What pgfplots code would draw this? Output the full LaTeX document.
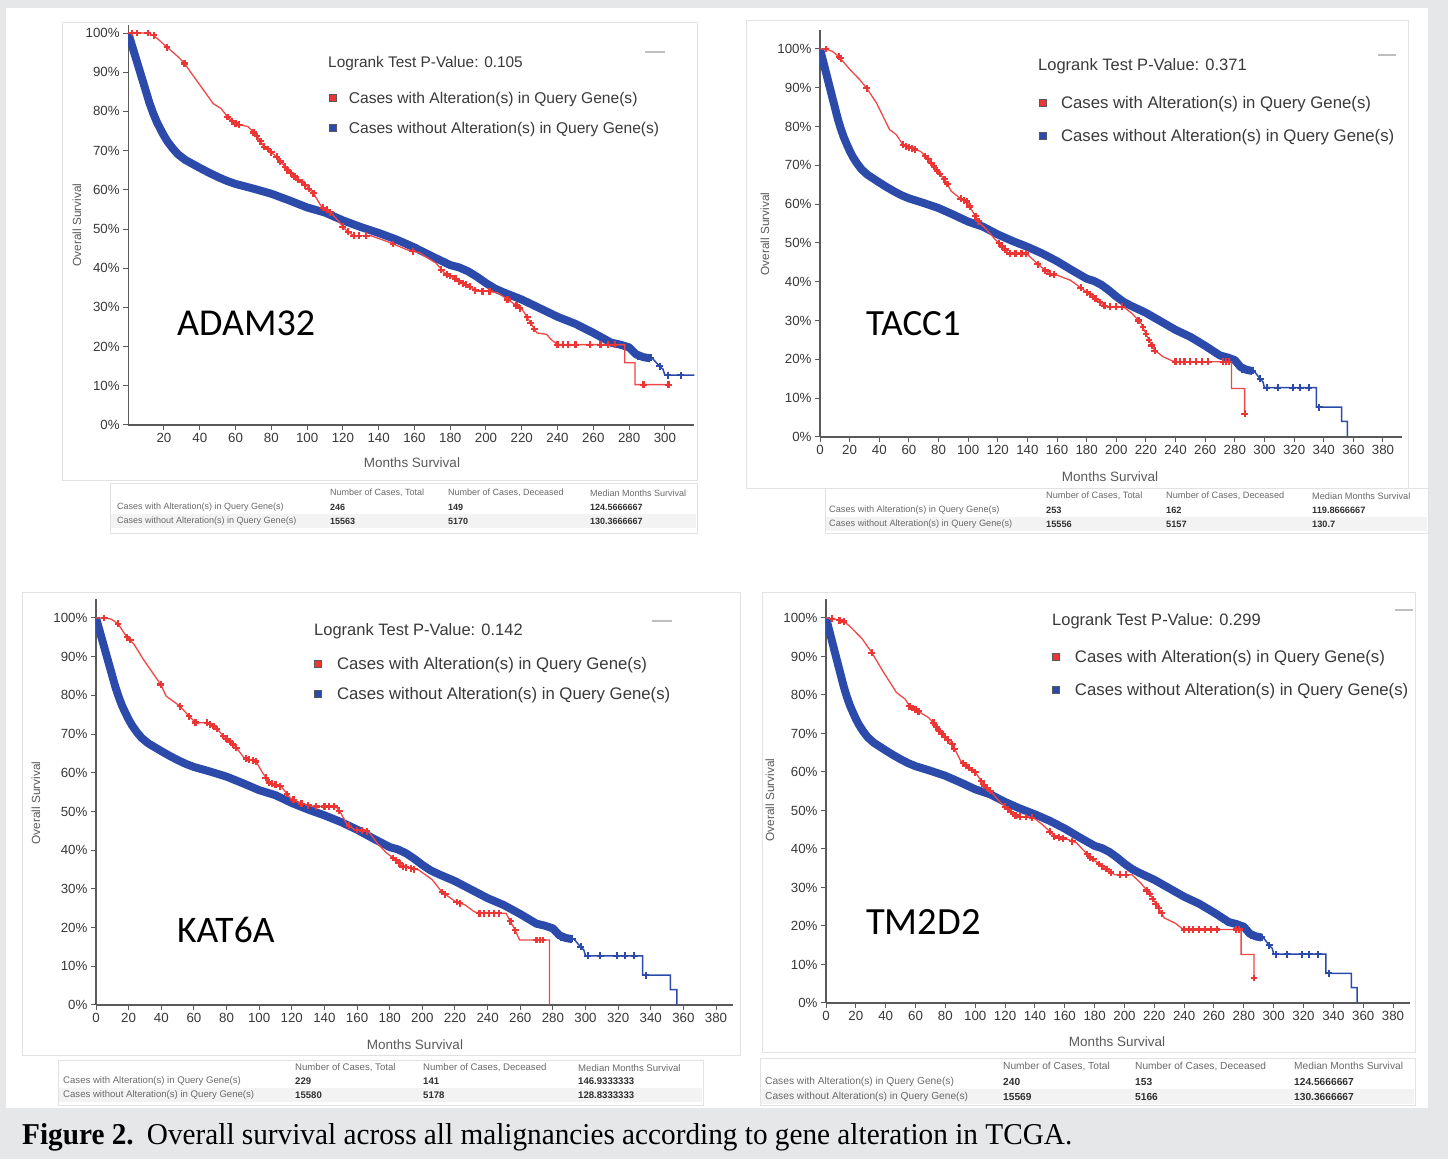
\documentclass[border=0pt]{standalone}
\usepackage{fontspec}
\setmainfont{Liberation Sans}
\newfontfamily\seriffont{Liberation Serif}
\newfontfamily\calfont{Carlito}
\usepackage{graphicx}
\usepackage{pgfplots}
\pgfplotsset{compat=1.18}
\usepackage{pgfplotstable}

\definecolor{bggray}{HTML}{E6E7E9}
\definecolor{kmred}{HTML}{EC3535}
\definecolor{kmredline}{HTML}{F04848}
\definecolor{kmblue}{HTML}{2B4AAA}
\definecolor{axisgray}{HTML}{5A5A5A}
\definecolor{ticklab}{HTML}{383838}
\definecolor{legtext}{HTML}{3A3A3A}
\definecolor{tabtext}{HTML}{6A6A6A}
\definecolor{tabbold}{HTML}{303030}
\definecolor{panelline}{HTML}{E2E2E2}
\definecolor{band}{HTML}{F3F3F3}

\newcommand\fs[1]{\fontsize{#1}{#1}\selectfont}

% ---------- common blue series (cases without alteration) ----------
\pgfplotstableread{
m s
0 100
2 97
4 94
6 91
8 88
10 85
12 82
14 79.5
16 77.3
18 75.5
20 73.8
22 72.3
25 70.5
28 69
32 67.6
36 66.6
40 65.6
45 64.4
50 63.3
55 62.3
60 61.5
70 60.3
80 59
90 57.3
100 55.5
110 54.2
120 52.2
130 50.5
140 49
150 47.3
160 45.3
170 43
180 40.8
185 40.2
190 39.2
195 37.8
200 36.2
205 34.8
210 33.8
220 32
230 29.8
240 27.6
250 25.8
260 23.5
270 21
275 20.5
280 19.8
284 18
288 17.3
292 17
}\bluethick

\pgfplotstableread{
m s
288 17.3
293 17
295 16
297 15
299 14.2
300 12.7
335 12.7
335 7.7
352 7.7
352 4
356 4
356 0
}\bluetail

\pgfplotstableread{
m s
285 17.5
289 17.3
292 17.1
297 15
301.5 12.7
309 12.7
319 12.7
324 12.7
330 12.7
337 7.7
}\bluemarks

% ---------- ADAM32 ----------
\pgfplotstableread{
m s
0 100
10.8 100
14.3 99.4
21.7 96.4
28 93.9
31.5 92.2
39.5 87.1
47.5 82
52 80.7
55.5 78.6
60 76.9
67 76.1
71.5 74
76 71
83 68.4
87.6 65.9
92 63.8
99 61.2
103.6 59.1
108 55.7
112.6 54.5
117 52.3
121.6 49.8
126 48.3
135.6 48.3
144.8 46.8
156 44.7
163 43.9
172 41.3
176.8 38.8
183.6 37.1
190.6 35.4
195 34.1
202 34.1
206.6 33.7
213.5 31.6
220.4 29.4
225 26
228.4 23.5
234 23.1
236.4 21.8
240 20.5
277.6 20.5
277.6 15.9
283.3 15.9
283.3 10.3
302.7 10.3
}\redA
\pgfplotstableread{
m s
2 100
5 100
11 100
14.3 99.4
21.7 96.4
31.5 92.2
55.5 78.6
58 77.5
60 76.9
62 76.6
70 74.6
72 73.7
74 72.4
76 71
78 70.4
80 69.6
83 68.4
85 67.2
87.6 65.9
89 65
91 64.2
93 63.4
95 62.6
97 61.9
99 61.2
101 60.3
103.6 59.1
109 55.4
111 54.9
113 54.3
120 50.6
123 49.3
126 48.3
129 48.3
133 48.3
148 46.2
159 44.3
175 39.6
178 38.4
180 38
183 37.3
185 36.7
187 36.2
189 35.8
191 35.3
194 34.4
198 34.1
202 34.1
212 32
217 30.5
219 29.8
223 27.5
225 26
227 24.5
240 20.5
243 20.5
246 20.5
250 20.5
258 20.5
264 20.5
268 20.5
272 20.5
288 10.3
302 10.3
}\redAm

% ---------- TACC1 ----------
\pgfplotstableread{
m s
0 100
3.9 100
8.3 99.4
12.8 98
20.2 94.7
26.8 92.1
31.5 89.9
38.1 86.1
47 79.2
51.5 77.9
56 75.3
61.9 74.4
67.9 73.6
72.3 71.9
76.8 69.7
84.2 66.3
88.7 63.3
94.6 61.5
99.1 60.7
103.6 57.7
108 55.1
112.5 53.4
118.5 50.8
124.4 48.6
127.4 47.3
139.3 47.3
145.2 45.2
154.2 42.2
160 41.7
169 40.4
178 37.9
187 35.3
192.9 33.6
204.8 33.6
210.7 31.8
216.7 29.3
221 25.8
225.6 22.4
231.5 20.7
239 19.4
277.7 19.4
277.7 12.5
286.6 12.5
286.6 6
}\redB
\pgfplotstableread{
m s
4 100
12.8 98
14 97.6
31.5 89.9
56 75.3
58 74.9
60 74.6
62 74.4
64 74.1
71 72.4
73 71.6
75 70.6
77 69.7
79 68.7
81 67.8
84 66.4
86 65.2
95 61.4
97 61
99 60.7
101 59.4
105 56.9
107 55.6
121 49.9
123 49.1
125 48.3
128 47.3
132 47.3
136 47.3
139 47.3
147 44.5
152 42.9
155 42.1
158 41.9
176 38.5
180 37.3
182 36.8
184 36.1
186 35.6
189 34.7
192 33.8
196 33.6
200 33.6
204 33.6
215 30
218 28.3
220 26.6
222 25
224 23.6
226 22.2
240 19.4
243 19.4
246 19.4
250 19.4
254 19.4
258 19.4
262 19.4
272 19.4
274 19.4
276 19.4
286.6 6
}\redBm

% ---------- KAT6A ----------
\pgfplotstableread{
m s
0 100
5 100
9.3 99.7
13.5 98.5
19.1 94.9
23.3 93.2
29 89.3
34.6 85.9
39.7 82.8
43 79.8
51.5 77.2
57 74.6
61.3 72.9
68.4 72.9
72.6 72
78.2 69.5
85.2 66.9
90.9 63.8
97.9 63
102.1 60
106.4 57.4
113.4 56.5
119 53.5
124.6 52.2
133 51.3
147 51.3
150 49.6
154 46.6
158.4 45.3
166.8 44.9
172.4 41.8
178 39.3
183.7 37.5
188 35.8
197.7 34.9
206 32.4
211.8 29.3
220.3 26.7
226 25.9
231.5 24.2
234.3 23.7
251.2 23.7
254 21.6
256.8 19.4
259.6 16.8
277.9 16.8
277.9 0
}\redC
\pgfplotstableread{
m s
5 100
13.5 98.5
19 95
21 94.3
39.7 82.8
51.5 77.2
57 74.6
61 73
68 72.9
70 72.5
72 72.1
74 71.3
78 69.5
80 68.8
82 68.1
84 67.3
86 66.5
92 63.7
94 63.4
96 63.2
98 62.9
104 58.7
106 57.5
108 57.2
110 56.9
113 56.5
117 54.5
121 53
126 52
130 51.6
135 51.3
140 51.3
143 51.3
146 51.3
149 50.2
155 46.3
160 45.2
163 45.1
166 44.9
182 38
184 37.4
186 36.6
188 35.8
190 35.6
193 35.3
195 35.1
212 29.2
214 28.6
221 26.6
223 26.3
235 23.7
238 23.7
241 23.7
244 23.7
247 23.7
254 21.6
257 19.3
270 16.8
272 16.8
274 16.8
}\redCm

% ---------- TM2D2 ----------
\pgfplotstableread{
m s
0 100
4.3 99.8
11.5 99.2
15.8 97.9
24.4 94.5
30.7 91
38.7 85.8
47.3 80.6
53.1 78.9
55.9 77.1
61.7 75.8
68.8 74.1
71.7 72.8
76 70.6
84.6 67.2
90.3 62.8
96.1 61.1
100.4 59.8
104.7 57.2
110.4 55
116.1 52.4
121.9 50.3
127.6 48.5
139.1 48.1
144.8 46.4
153.4 43.3
162 42.5
167.8 41.6
176.4 38.1
185 35.5
193.6 33.3
205 33.3
210.8 31.2
216.5 28.6
222.3 25.1
226.6 22.1
233.7 20.8
239.5 19.1
278.2 19.1
278.2 12.6
286.8 12.6
286.8 6.5
}\redD
\pgfplotstableread{
m s
4 99.8
9 99.4
12 99.1
30.7 91
55.9 77.1
58 76.6
60 76.2
62 75.8
72 72.8
74 71.6
76 70.6
78 69.8
80 69
82 68.2
84.6 67.2
86 66
92 62.3
94 61.7
96 61.1
98 60.5
100 59.9
104 57.6
106 56.5
108 55.9
110 55.1
120 51
122 50.3
124 49.6
127 48.7
130 48.4
134 48.3
138 48.1
150 44.5
153 43.3
156 43
159 42.7
165 42
175 38.7
177 37.8
179 37.4
183 36.1
185 35.5
188 34.8
191 33.9
197 33.3
201 33.3
215 29.2
217 28.3
219 27
221 25.7
223 24.6
225 23.3
240 19.1
243 19.1
246 19.1
250 19.1
254 19.1
258 19.1
262 19.1
275 19.1
277 19.1
286.8 6.5
}\redDm

\pgfplotsset{
  kmaxis/.style={
    scale only axis, anchor=south west,
    axis x line=bottom, axis y line=left,
    axis line style={-, draw=axisgray, line width=1.3pt},
    xmin=0, ymin=0,
    ytick={0,10,...,100},
    yticklabel={\pgfmathprintnumber{\tick}\%},
    tick align=outside, major tick length=5pt,
    every tick/.append style={draw=axisgray, line width=1pt},
    tick label style={font=\fs{13.3pt}, text=ticklab},
    /pgf/number format/assume math mode=true,
    legend cell align=left,
    legend style={draw=none, fill=none, inner sep=0pt, outer sep=0pt,
      anchor=north west,
      nodes={inner sep=0pt, text height=14pt, text depth=2pt, text=legtext}},
  },
  bluethickstyle/.style={kmblue, line width=8pt, line join=round, forget plot},
  bluetailstyle/.style={kmblue, line width=1.5pt, forget plot},
  bluemarkstyle/.style={only marks, mark=+, mark size=3.5pt, mark options={kmblue, line width=2pt}, forget plot},
  redlinestyle/.style={kmredline, line width=1.3pt, forget plot},
  redmarkstyle/.style={only marks, mark=+, mark size=3.4pt, mark options={kmred, line width=2.2pt}, forget plot},
}

\newcommand\redsq{\addlegendimage{legend image code/.code={\draw[fill=kmred, draw=black!65, line width=0.8pt] (-3.5pt,-3.5pt) rectangle (3.5pt,3.5pt);}}}
\newcommand\bluesq{\addlegendimage{legend image code/.code={\draw[fill=kmblue, draw=black!65, line width=0.8pt] (-3.5pt,-3.5pt) rectangle (3.5pt,3.5pt);}}}

\def\ktabvals#1#2#3#4#5#6{\def\va{#1}\def\vb{#2}\def\vc{#3}\def\vd{#4}\def\ve{#5}\def\vf{#6}}
\newcommand\ktab[9]{%
  \ktabvals#9%
  \node[anchor=west, inner sep=0pt, text=tabtext, font=\fs{#8}] at (#2,#5) {Number of Cases, Total};
  \node[anchor=west, inner sep=0pt, text=tabtext, font=\fs{#8}] at (#3,#5) {Number of Cases, Deceased};
  \node[anchor=west, inner sep=0pt, text=tabtext, font=\fs{#8}] at (#4,#5) {Median Months Survival};
  \node[anchor=west, inner sep=0pt, text=tabtext, font=\fs{#8}] at (#1,#6) {Cases with Alteration(s) in Query Gene(s)};
  \node[anchor=west, inner sep=0pt, text=tabtext, font=\fs{#8}] at (#1,#7) {Cases without Alteration(s) in Query Gene(s)};
  \node[anchor=west, inner sep=0pt, text=tabbold, font=\fs{#8}\bfseries] at (#2,#6) {\va};
  \node[anchor=west, inner sep=0pt, text=tabbold, font=\fs{#8}\bfseries] at (#3,#6) {\vb};
  \node[anchor=west, inner sep=0pt, text=tabbold, font=\fs{#8}\bfseries] at (#4,#6) {\vc};
  \node[anchor=west, inner sep=0pt, text=tabbold, font=\fs{#8}\bfseries] at (#2,#7) {\vd};
  \node[anchor=west, inner sep=0pt, text=tabbold, font=\fs{#8}\bfseries] at (#3,#7) {\ve};
  \node[anchor=west, inner sep=0pt, text=tabbold, font=\fs{#8}\bfseries] at (#4,#7) {\vf};
}

\begin{document}
\begin{tikzpicture}[x=1pt,y=1pt]
\useasboundingbox (0,0) rectangle (1448,1159);
\fill[bggray] (0,0) rectangle (1448,1159);
\fill[white] (6,51) rectangle (1428,1151);

% panels
\draw[panelline, fill=white] (62,679) rectangle (697,1137);
\draw[panelline, fill=white] (746,671) rectangle (1408,1139);
\draw[panelline, fill=white] (22,104) rectangle (740,567);
\draw[panelline, fill=white] (762,107) rectangle (1415,567);

% tables
\draw[panelline, fill=white] (110,626) rectangle (697,676);
\fill[band] (111,631) rectangle (696,645);
\draw[panelline, fill=white] (825,626) rectangle (1428,671);
\fill[band] (826,628) rectangle (1427,642);
\draw[panelline, fill=white] (58,54) rectangle (703,99);
\fill[band] (59,57) rectangle (702,71);
\draw[panelline, fill=white] (760,54) rectangle (1415,101);
\fill[band] (761,55) rectangle (1414,70);

\ktab{117}{330}{448}{590}{666}{652}{638}{9pt}{{246}{149}{124.5666667}{15563}{5170}{130.3666667}}
\ktab{829}{1046}{1166}{1312}{663}{649}{635}{9.2pt}{{253}{162}{119.8666667}{15556}{5157}{130.7}}
\ktab{63}{295}{423}{578}{91}{78}{64}{9.6pt}{{229}{141}{146.9333333}{15580}{5178}{128.8333333}}
\ktab{765}{1003}{1135}{1294}{93}{77}{62}{10.2pt}{{240}{153}{124.5666667}{15569}{5166}{130.3666667}}

% ---------------- ADAM32 ----------------
\begin{axis}[kmaxis, at={(128.2pt,734pt)}, width=566.2pt, height=399.8pt,
  xmax=316.5, ymax=102, xtick={20,40,...,300},
  legend style={at={(0.3545,0.8379)}, row sep=14pt, column sep=12.1pt, font=\fs{15.6pt}}]
\addplot[bluethickstyle] table[x=m,y=s] {\bluethick};
\addplot[bluetailstyle] table[x=m,y=s] {\bluetail};
\addplot[bluemarkstyle] table[x=m,y=s] {\bluemarks};
\addplot[redlinestyle] table[x=m,y=s] {\redA};
\addplot[redmarkstyle] table[x=m,y=s] {\redAm};
\redsq \addlegendentry{Cases with Alteration(s) in Query Gene(s)}
\bluesq \addlegendentry{Cases without Alteration(s) in Query Gene(s)}
\end{axis}

% ---------------- TACC1 ----------------
\begin{axis}[kmaxis, at={(820pt,722pt)}, width=581.5pt, height=407.4pt,
  xmax=392.5, ymax=105, xtick={0,20,...,380},
  legend style={at={(0.3768,0.8395)}, row sep=17pt, column sep=14.1pt, font=\fs{16.75pt}}]
\addplot[bluethickstyle] table[x=m,y=s] {\bluethick};
\addplot[bluetailstyle] table[x=m,y=s] {\bluetail};
\addplot[bluemarkstyle] table[x=m,y=s] {\bluemarks};
\addplot[redlinestyle] table[x=m,y=s] {\redB};
\addplot[redmarkstyle] table[x=m,y=s] {\redBm};
\redsq \addlegendentry{Cases with Alteration(s) in Query Gene(s)}
\bluesq \addlegendentry{Cases without Alteration(s) in Query Gene(s)}
\end{axis}

% ---------------- KAT6A ----------------
\begin{axis}[kmaxis, at={(96pt,154pt)}, width=637pt, height=406.4pt,
  xmax=390.4, ymax=105, xtick={0,20,...,380},
  legend style={at={(0.3424,0.8588)}, row sep=14pt, column sep=15.1pt, font=\fs{16.75pt}}]
\addplot[bluethickstyle] table[x=m,y=s] {\bluethick};
\addplot[bluetailstyle] table[x=m,y=s] {\bluetail};
\addplot[bluemarkstyle] table[x=m,y=s] {\bluemarks};
\addplot[redlinestyle] table[x=m,y=s] {\redC};
\addplot[redmarkstyle] table[x=m,y=s] {\redCm};
\redsq \addlegendentry{Cases with Alteration(s) in Query Gene(s)}
\bluesq \addlegendentry{Cases without Alteration(s) in Query Gene(s)}
\end{axis}

% ---------------- TM2D2 ----------------
\begin{axis}[kmaxis, at={(826pt,156pt)}, width=584.2pt, height=404.3pt,
  xmax=391.5, ymax=105, xtick={0,20,...,380},
  legend style={at={(0.3870,0.8756)}, row sep=17pt, column sep=15.1pt, font=\fs{16.75pt}}]
\addplot[bluethickstyle] table[x=m,y=s] {\bluethick};
\addplot[bluetailstyle] table[x=m,y=s] {\bluetail};
\addplot[bluemarkstyle] table[x=m,y=s] {\bluemarks};
\addplot[redlinestyle] table[x=m,y=s] {\redD};
\addplot[redmarkstyle] table[x=m,y=s] {\redDm};
\redsq \addlegendentry{Cases with Alteration(s) in Query Gene(s)}
\bluesq \addlegendentry{Cases without Alteration(s) in Query Gene(s)}
\end{axis}

% titles (logrank)
\node[anchor=base west, inner sep=0pt, text=legtext, font=\fs{15.4pt}] at (328,1091) {Logrank Test P-Value: 0.105};
\node[anchor=base west, inner sep=0pt, text=legtext, font=\fs{16.5pt}] at (1038,1088) {Logrank Test P-Value: 0.371};
\node[anchor=base west, inner sep=0pt, text=legtext, font=\fs{16.5pt}] at (314,523) {Logrank Test P-Value: 0.142};
\node[anchor=base west, inner sep=0pt, text=legtext, font=\fs{16.5pt}] at (1052,533) {Logrank Test P-Value: 0.299};

% small dashes (menu)
\draw[black!25, line width=2pt] (645,1107) -- (665,1107);
\draw[black!25, line width=2pt] (1378,1104) -- (1396,1104);
\draw[black!25, line width=2pt] (652,538) -- (672,538);
\draw[black!25, line width=2pt] (1395,549) -- (1413,549);

% axis labels
\node[text=axisgray, font=\fs{13.5pt}] at (412,696) {Months Survival};
\node[text=axisgray, font=\fs{13.5pt}] at (1110,682) {Months Survival};
\node[text=axisgray, font=\fs{13.5pt}] at (415,114) {Months Survival};
\node[text=axisgray, font=\fs{13.5pt}] at (1117,117) {Months Survival};
\node[rotate=90, text=axisgray, font=\fs{11.8pt}] at (77,934) {Overall Survival};
\node[rotate=90, text=axisgray, font=\fs{11.8pt}] at (765,925) {Overall Survival};
\node[rotate=90, text=axisgray, font=\fs{11.8pt}] at (36,356) {Overall Survival};
\node[rotate=90, text=axisgray, font=\fs{11.8pt}] at (770,359) {Overall Survival};

% gene names
\node[anchor=base west, inner sep=0pt, font=\calfont\fs{38pt}] at (177,823) {ADAM32};
\node[anchor=base west, inner sep=0pt, font=\calfont\fs{37pt}] at (866,823) {TACC1};
\node[anchor=base west, inner sep=0pt, font=\calfont\fs{37.5pt}] at (177,216) {KAT6A};
\node[anchor=base west, inner sep=0pt, font=\calfont\fs{38.5pt}] at (866,224) {TM2D2};

% caption
\node[anchor=base west, inner sep=0pt] at (22,14) {\resizebox{1050pt}{21pt}{\seriffont\fs{30pt}\textbf{Figure 2.}\hspace{0.45em}Overall survival across all malignancies according to gene alteration in TCGA.}};
\end{tikzpicture}
\end{document}
